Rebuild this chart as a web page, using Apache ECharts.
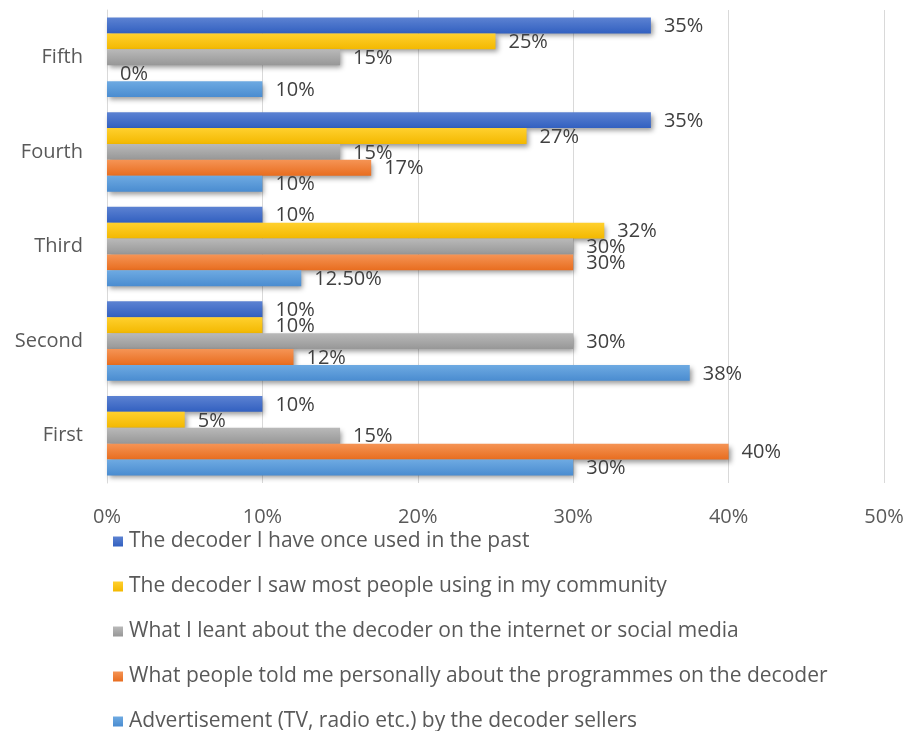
<!DOCTYPE html>
<html>
<head>
<meta charset="utf-8">
<script src="https://cdn.jsdelivr.net/npm/echarts@6/dist/echarts.min.js"></script>
<style>
  html, body { margin: 0; padding: 0; background: #fff; }
  #chart { width: 908px; height: 731px; }
</style>
</head>
<body>
<div id="chart"></div>
<script>
// categories bottom to top
const categories = ['First', 'Second', 'Third', 'Fourth', 'Fifth'];

const pastUsed = [10, 10, 10, 35, 35];
const community = [5, 10, 32, 27, 25];
const internet = [15, 30, 30, 15, 15];
const peopleTold = [40, 12, 30, 17, 0];
const advert = [30, 37.5, 12.5, 10, 10];
const advertLabels = ['30%', '38%', '12.50%', '10%', '10%'];

const xTicks = [0, 10, 20, 30, 40, 50];

const names = [
  'The decoder I have once used in the past',
  'The decoder I saw most people using in my community',
  'What I leant about the decoder on the internet or social media',
  'What people told me personally about the programmes on the decoder',
  'Advertisement (TV, radio etc.) by the decoder sellers'
];

const font = '"Open Sans", sans-serif';

function grad(top, bottom) {
  return new echarts.graphic.LinearGradient(0, 0, 0, 1, [
    { offset: 0, color: top },
    { offset: 1, color: bottom }
  ]);
}

function makeSeries(name, values, top, bottom, labels) {
  return {
    name: name,
    type: 'bar',
    data: values,
    barGap: '0%',
    barCategoryGap: '16%',
    itemStyle: {
      color: grad(top, bottom),
      shadowBlur: 5,
      shadowOffsetX: 2,
      shadowOffsetY: 3,
      shadowColor: 'rgba(0,0,0,0.4)'
    },
    label: {
      show: true,
      position: 'right',
      distance: 13,
      offset: [0, 1],
      fontFamily: font,
      fontSize: 20,
      color: '#404040',
      formatter: p => labels ? labels[p.dataIndex] : p.value + '%'
    }
  };
}

const chart = echarts.init(document.getElementById('chart'));
chart.setOption({
  animation: false,
  grid: { left: 107, right: 24, top: 10, bottom: 248, containLabel: false },
  legend: {
    orient: 'vertical',
    left: 113,
    top: 531,
    height: 215,
    padding: 0,
    itemGap: 24,
    itemWidth: 10,
    itemHeight: 10,
    icon: 'rect',
    data: names.slice(),
    textStyle: { fontFamily: font, fontSize: 21, color: '#595959', padding: [0, 0, 0, 1] }
  },
  xAxis: {
    type: 'value',
    min: 0,
    max: 50,
    interval: 10,
    axisLine: { show: false },
    axisTick: { show: false },
    splitLine: { lineStyle: { color: '#d9d9d9', width: 1 } },
    axisLabel: {
      margin: 24,
      fontFamily: font,
      fontSize: 20,
      color: '#595959',
      formatter: v => xTicks.includes(v) ? v + '%' : ''
    }
  },
  yAxis: {
    type: 'category',
    data: categories,
    axisLine: { show: true, lineStyle: { color: '#d9d9d9' } },
    axisTick: { show: false },
    axisLabel: {
      margin: 24,
      fontFamily: font,
      fontSize: 20,
      color: '#595959'
    }
  },
  series: [
    makeSeries(names[0], pastUsed, '#5c82d2', '#3260c0'),
    makeSeries(names[1], community, '#ffd02e', '#f3b800'),
    makeSeries(names[2], internet, '#b9b9b9', '#979797'),
    makeSeries(names[3], peopleTold, '#f59455', '#e86d1f'),
    makeSeries(names[4], advert, '#6eaae2', '#4a8cd0', advertLabels)
  ]
});
</script>
</body>
</html>
